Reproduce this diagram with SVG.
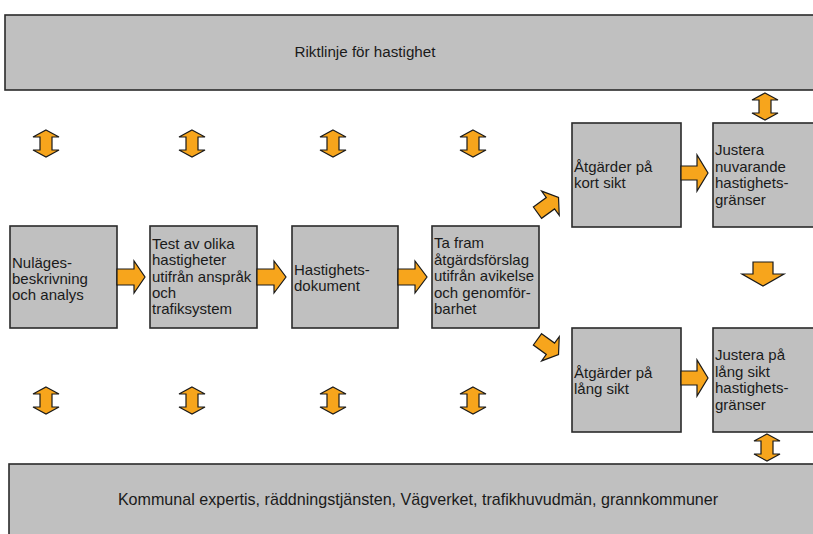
<svg xmlns="http://www.w3.org/2000/svg" width="813" height="534" viewBox="0 0 813 534">
<defs>
<style>
.box{fill:#c0c0c0;stroke:#2a2a2a;stroke-width:1.6}
.arr{fill:#f7a51c;stroke:#1a1a1a;stroke-width:1.2;stroke-linejoin:miter}
.t{font-family:"Liberation Sans",Arial,sans-serif;font-size:15px;fill:#1a1a1a}
.bt{font-family:"Liberation Sans",Arial,sans-serif;fill:#1a1a1a;text-anchor:middle}
</style>
<polygon id="dbl" class="arr" points="0,0 13,7 6,7 6,20 13,20 0,27 -13,20 -6,20 -6,7 -13,7"/>
<polygon id="diag" class="arr" points="-13,-7 3,-7 3,-15 13,0 3,15 3,7 -13,7"/>
</defs>
<rect width="813" height="534" fill="#ffffff"/>

<g id="riktlinje">
<rect class="box" x="5" y="15" width="812" height="75"/>
<text class="bt" x="365" y="57" font-size="15.2">Riktlinje för hastighet</text>
</g>

<g id="kommunal">
<rect class="box" x="9" y="464" width="808" height="80"/>
<text class="bt" x="418" y="505" font-size="16.1">Kommunal expertis, räddningstjänsten, Vägverket, trafikhuvudmän, grannkommuner</text>
</g>

<g id="nulage">
<rect class="box" x="10" y="226" width="107" height="102"/>
<text class="t" x="12" y="268">Nuläges-</text>
<text class="t" x="12" y="284">beskrivning</text>
<text class="t" x="12" y="300">och analys</text>
</g>

<g id="test">
<rect class="box" x="150" y="226" width="107" height="102"/>
<text class="t" x="152" y="249">Test av olika</text>
<text class="t" x="152" y="265">hastigheter</text>
<text class="t" x="152" y="282">utifrån anspråk</text>
<text class="t" x="152" y="298">och</text>
<text class="t" x="152" y="314">trafiksystem</text>
</g>

<g id="dokument">
<rect class="box" x="292" y="226" width="106" height="102"/>
<text class="t" x="294" y="275">Hastighets-</text>
<text class="t" x="294" y="291">dokument</text>
</g>

<g id="forslag">
<rect class="box" x="432" y="226" width="107" height="102"/>
<text class="t" x="434" y="248">Ta fram</text>
<text class="t" x="434" y="265">åtgärdsförslag</text>
<text class="t" x="434" y="281">utifrån avikelse</text>
<text class="t" x="434" y="298">och genomför-</text>
<text class="t" x="434" y="314">barhet</text>
</g>

<g id="kort">
<rect class="box" x="572" y="123" width="109" height="104"/>
<text class="t" x="574" y="172">Åtgärder på</text>
<text class="t" x="574" y="188">kort sikt</text>
</g>

<g id="justera-nu">
<rect class="box" x="713" y="123" width="104" height="104"/>
<text class="t" x="715" y="155">Justera</text>
<text class="t" x="715" y="172">nuvarande</text>
<text class="t" x="715" y="188">hastighets-</text>
<text class="t" x="715" y="205">gränser</text>
</g>

<g id="lang">
<rect class="box" x="572" y="328" width="109" height="104"/>
<text class="t" x="574" y="378">Åtgärder på</text>
<text class="t" x="574" y="394">lång sikt</text>
</g>

<g id="justera-lang">
<rect class="box" x="713" y="328" width="104" height="104"/>
<text class="t" x="715" y="360">Justera på</text>
<text class="t" x="715" y="377">lång sikt</text>
<text class="t" x="715" y="393">hastighets-</text>
<text class="t" x="715" y="410">gränser</text>
</g>

<g id="connectors">
<polygon class="arr" points="117,269 134,269 134,261 145,277 134,293 134,285 117,285"/>
<polygon class="arr" points="257,269 274,269 274,261 286,277 274,293 274,285 257,285"/>
<polygon class="arr" points="398,269 415,269 415,261 427,277 415,293 415,285 398,285"/>
<polygon class="arr" points="681,166 697,166 697,155 708,173 697,191 697,180 681,180"/>
<polygon class="arr" points="681,371 697,371 697,360 708,378 697,396 697,385 681,385"/>
<polygon class="arr" points="753,262 773,262 773,274 784,274 763,286 742,274 753,274"/>
<use href="#diag" transform="translate(548,205) rotate(-36)"/>
<use href="#diag" transform="translate(548,347) rotate(36)"/>
<use href="#dbl" x="46" y="130"/>
<use href="#dbl" x="192" y="130"/>
<use href="#dbl" x="333" y="130"/>
<use href="#dbl" x="473" y="130"/>
<use href="#dbl" x="46" y="387"/>
<use href="#dbl" x="192" y="387"/>
<use href="#dbl" x="333" y="387"/>
<use href="#dbl" x="473" y="387"/>
<use href="#dbl" x="765" y="93"/>
<use href="#dbl" x="767" y="434"/>
</g>
</svg>
